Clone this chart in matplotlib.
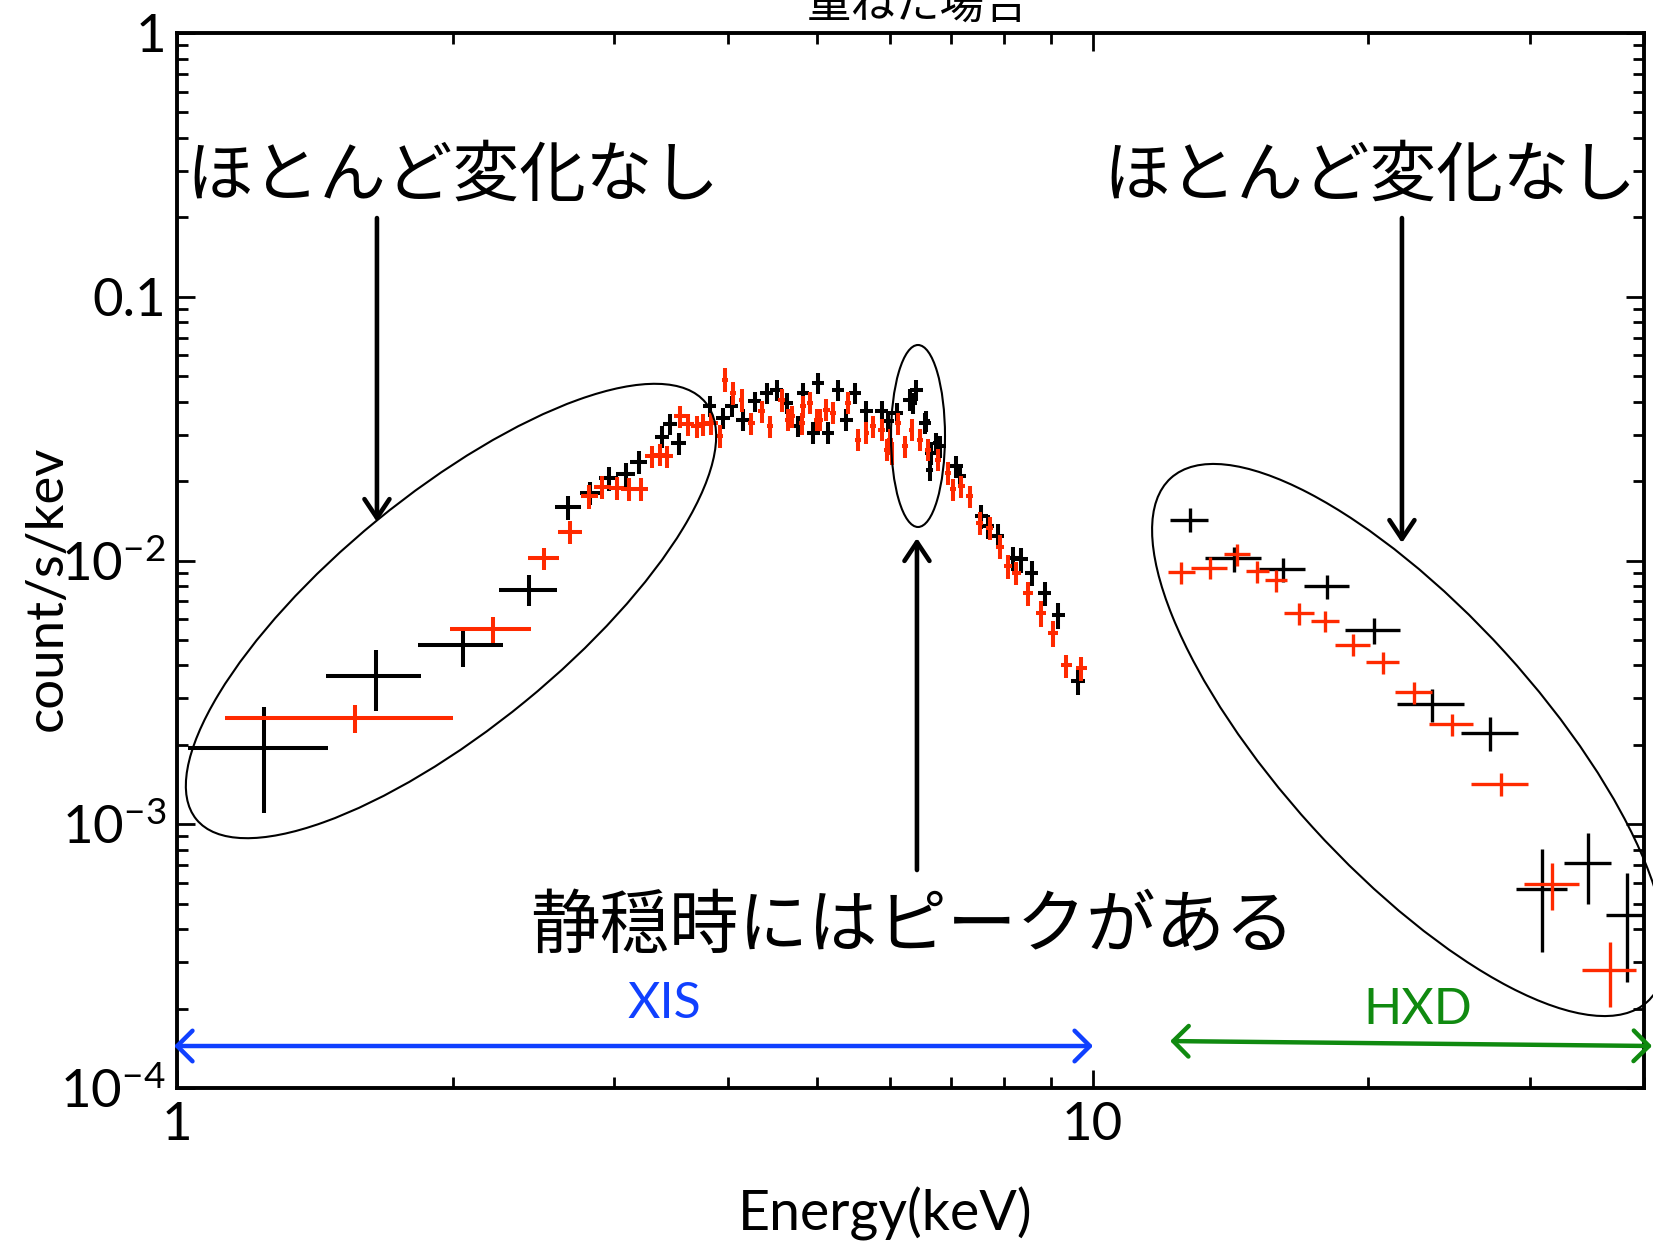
import matplotlib

matplotlib.use("Agg")
import matplotlib.pyplot as plt
from matplotlib.patches import Ellipse
from matplotlib.ticker import FixedLocator, LogLocator, NullFormatter

plt.rcParams.update({
    "font.family": ["Lato", "Noto Sans CJK JP", "DejaVu Sans"],
    "mathtext.fontset": "custom",
    "mathtext.rm": "Lato",
    "mathtext.it": "Lato:italic",
    "mathtext.bf": "Lato:bold",
})
JP = ["Noto Sans CJK JP", "DejaVu Sans"]

# ---- XIS, black (energy keV, half bin width, count/s/keV, error)
xis_k_e = [1.244, 1.649, 2.052, 2.423, 2.673, 2.824, 2.962, 3.092, 3.194,
           3.384, 3.452, 3.532, 3.818, 3.948, 4.033, 4.152, 4.276, 4.404,
           4.516, 4.631, 4.768, 4.829, 4.951, 5.013, 5.140, 5.272, 5.384,
           5.498, 5.662, 5.880, 5.978, 6.106, 6.313, 6.366, 6.420, 6.556,
           6.580, 6.640, 6.667, 6.750, 6.808, 7.100, 7.159, 7.557, 7.684,
           7.880, 8.185, 8.360, 8.574, 8.864, 9.166, 9.638]
xis_k_de = [0.217, 0.196, 0.219, 0.174, 0.087, 0.071, 0.070, 0.075, 0.070,
            0.060, 0.060, 0.065, 0.065, 0.065, 0.065, 0.070, 0.070, 0.070,
            0.075, 0.075, 0.075, 0.075, 0.080, 0.080, 0.080, 0.085, 0.085,
            0.085, 0.090, 0.090, 0.095, 0.095, 0.100, 0.060, 0.100, 0.100,
            0.060, 0.060, 0.105, 0.060, 0.105, 0.110, 0.110, 0.120, 0.120,
            0.125, 0.130, 0.135, 0.140, 0.145, 0.150, 0.160]
xis_k_r = [1.94e-3, 3.64e-3, 4.77e-3, 7.76e-3, 0.0159, 0.0180, 0.0205,
           0.0212, 0.0237, 0.0295, 0.0328, 0.0278, 0.0384, 0.0347, 0.0384,
           0.0342, 0.0401, 0.0432, 0.0444, 0.0396, 0.0323, 0.0432, 0.0305,
           0.0471, 0.0305, 0.0444, 0.0342, 0.0432, 0.0368, 0.0368, 0.0337,
           0.0363, 0.0407, 0.0396, 0.0444, 0.0332, 0.0337, 0.0221, 0.0256,
           0.0279, 0.0271, 0.0228, 0.0209, 0.0147, 0.0135, 0.0124, 0.0102,
           0.0101, 0.0090, 0.0075, 0.0062, 0.0035]
xis_k_dr = [0.84e-3, 0.95e-3, 0.82e-3, 1.03e-3, 0.0017, 0.0018, 0.0022,
            0.0023, 0.0024, 0.0028, 0.0030, 0.0026, 0.0035, 0.0032, 0.0035,
            0.0032, 0.0036, 0.0040, 0.0040, 0.0036, 0.0030, 0.0040, 0.0029,
            0.0043, 0.0029, 0.0040, 0.0032, 0.0040, 0.0034, 0.0034, 0.0031,
            0.0034, 0.0038, 0.0037, 0.0041, 0.0031, 0.0031, 0.0021, 0.0025,
            0.0026, 0.0026, 0.0022, 0.0020, 0.0015, 0.0014, 0.0013, 0.0011,
            0.0011, 0.0010, 0.0008, 0.0007, 0.0004]

# ---- XIS, red
xis_r_e = [1.564, 2.211, 2.515, 2.686, 2.819, 2.915, 3.020, 3.117, 3.208,
           3.298, 3.368, 3.425, 3.541, 3.616, 3.693, 3.755, 3.834, 3.915,
           3.966, 4.049, 4.135, 4.240, 4.349, 4.441, 4.573, 4.650, 4.690,
           4.810, 4.829, 4.909, 4.994, 5.035, 5.120, 5.206, 5.404, 5.542,
           5.662, 5.756, 5.880, 5.955, 6.004, 6.030, 6.130, 6.235, 6.341,
           6.474, 6.611, 6.779, 6.950, 7.038, 7.188, 7.339, 7.526, 7.717,
           7.914, 8.081, 8.254, 8.501, 8.790, 9.052, 9.361, 9.721]
xis_r_de = [0.436, 0.224, 0.098, 0.081, 0.060, 0.060, 0.060, 0.060, 0.060,
            0.055, 0.055, 0.055, 0.055, 0.055, 0.055, 0.055, 0.060, 0.030,
            0.030, 0.030, 0.030, 0.035, 0.035, 0.035, 0.035, 0.035, 0.035,
            0.035, 0.035, 0.035, 0.035, 0.035, 0.040, 0.040, 0.040, 0.040,
            0.040, 0.040, 0.045, 0.045, 0.045, 0.045, 0.045, 0.045, 0.045,
            0.050, 0.050, 0.050, 0.055, 0.055, 0.060, 0.060, 0.070, 0.075,
            0.080, 0.085, 0.090, 0.100, 0.110, 0.120, 0.130, 0.140]
xis_r_r = [2.52e-3, 5.48e-3, 0.0102, 0.0128, 0.0175, 0.0190, 0.0189, 0.0187,
           0.0187, 0.0248, 0.0252, 0.0248, 0.0352, 0.0328, 0.0323, 0.0328,
           0.0332, 0.0296, 0.0485, 0.0432, 0.0407, 0.0332, 0.0368, 0.0323,
           0.0407, 0.0342, 0.0352, 0.0332, 0.0384, 0.0396, 0.0342, 0.0342,
           0.0373, 0.0363, 0.0396, 0.0287, 0.0305, 0.0323, 0.0313, 0.0263,
           0.0287, 0.0256, 0.0332, 0.0271, 0.0313, 0.0287, 0.0263, 0.0241,
           0.0215, 0.0186, 0.0191, 0.0175, 0.0139, 0.0133, 0.0113, 0.0095,
           0.0090, 0.0075, 0.0063, 0.0053, 0.0040, 0.0039]
xis_r_dr = [0.31e-3, 0.60e-3, 0.0010, 0.0013, 0.0018, 0.0019, 0.0019, 0.0019,
            0.0019, 0.0024, 0.0024, 0.0024, 0.0034, 0.0031, 0.0031, 0.0031,
            0.0032, 0.0029, 0.0050, 0.0042, 0.0040, 0.0032, 0.0035, 0.0031,
            0.0040, 0.0033, 0.0034, 0.0032, 0.0037, 0.0038, 0.0033, 0.0033,
            0.0036, 0.0035, 0.0038, 0.0028, 0.0029, 0.0031, 0.0030, 0.0025,
            0.0028, 0.0025, 0.0032, 0.0026, 0.0030, 0.0028, 0.0025, 0.0023,
            0.0021, 0.0018, 0.0019, 0.0017, 0.0014, 0.0013, 0.0012, 0.0010,
            0.0009, 0.0008, 0.0007, 0.0006, 0.0004, 0.0004]

# ---- HXD, black
hxd_k_e = [12.76, 14.25, 16.12, 18.03, 20.27, 23.48, 27.18, 30.97, 34.75, 38.3]
hxd_k_de = [0.62, 1.0, 0.94, 1.02, 1.4, 1.97, 1.95, 1.95, 2.05, 1.9]
hxd_k_r = [0.0143, 0.01018, 9.25e-3, 7.97e-3, 5.43e-3, 2.85e-3, 2.22e-3,
           5.67e-4, 7.12e-4, 4.53e-4]
hxd_k_dr = [0.0015, 0.0011, 0.00095, 0.00085, 0.0006, 0.0004, 0.00032,
            2.4e-4, 2.15e-4, 2.0e-4]

# ---- HXD, red
hxd_r_e = [12.5, 13.42, 14.38, 15.13, 15.86, 16.82, 17.95, 19.23, 20.73,
           22.44, 24.66, 27.89, 31.77, 36.7]
hxd_r_de = [0.43, 0.6, 0.46, 0.44, 0.44, 0.64, 0.64, 0.85, 0.87, 1.04, 1.39,
            1.99, 2.2, 2.5]
hxd_r_r = [9.01e-3, 9.4e-3, 0.01054, 9.09e-3, 8.4e-3, 6.3e-3, 5.89e-3,
           4.8e-3, 4.11e-3, 3.16e-3, 2.39e-3, 1.42e-3, 5.93e-4, 2.8e-4]
hxd_r_dr = [0.0009, 0.0009, 0.0010, 0.0009, 0.0008, 0.0006, 0.00055,
            0.00045, 0.0004, 0.0003, 0.00023, 0.00014, 1.2e-4, 7.8e-5]

y_ticks = [1e-4, 1e-3, 1e-2, 0.1, 1]
y_labels = ["$10^{-4}$", "$10^{-3}$", "$10^{-2}$", "0.1", "1"]
x_ticks = [1, 10]
x_labels = ["1", "10"]

C_BLACK, C_RED = "black", "#ff2a00"
C_BLUE, C_GREEN = "#1040ff", "#108a10"

W, H = 1653, 1247
fig = plt.figure(figsize=(W / 100, H / 100), dpi=100)
ax = fig.add_axes([177 / W, (H - 1088) / H, 1467 / W, 1055 / H])
ax.set_xscale("log")
ax.set_yscale("log")

for e, de, r, dr, c, lw in (
        (xis_k_e, xis_k_de, xis_k_r, xis_k_dr, C_BLACK, 2.9),
        (hxd_k_e, hxd_k_de, hxd_k_r, hxd_k_dr, C_BLACK, 2.4),
        (xis_r_e, xis_r_de, xis_r_r, xis_r_dr, C_RED, 2.9),
        (hxd_r_e, hxd_r_de, hxd_r_r, hxd_r_dr, C_RED, 2.4)):
    ax.errorbar(e, r, xerr=de, yerr=dr, fmt="none", ecolor=c,
                elinewidth=lw, capsize=0)

ax.set_xlim(1, 40)
ax.set_ylim(1e-4, 1)
ax.yaxis.set_major_locator(FixedLocator(y_ticks))
ax.set_yticklabels(y_labels)
ax.xaxis.set_major_locator(FixedLocator(x_ticks))
ax.set_xticklabels(x_labels)
ax.xaxis.set_minor_locator(LogLocator(base=10, subs=range(2, 10)))
ax.yaxis.set_minor_locator(LogLocator(base=10, subs=range(2, 10)))
ax.xaxis.set_minor_formatter(NullFormatter())
ax.yaxis.set_minor_formatter(NullFormatter())
ax.tick_params(which="both", direction="in", top=True, right=True,
               width=2, labelsize=38, color="black")
ax.tick_params(which="major", length=13)
ax.tick_params(which="minor", length=8)
ax.tick_params(axis="y", pad=8)
ax.tick_params(axis="x", pad=10)
for s in ax.spines.values():
    s.set_linewidth(2.8)

ax.set_xlabel("Energy(keV)", fontsize=40, va="center")
ax.set_ylabel("count/s/kev", fontsize=38, va="center")
ax.xaxis.set_label_coords(0.483, -0.119)
ax.yaxis.set_label_coords(-0.0886, 0.474)

fig.text(918 / W, 0.996, "重ねた場合", family=JP, fontsize=32,
         ha="center", va="center")

# annotations
ax.text(0.188, 0.8635, "ほとんど変化なし", family=JP, fontsize=48,
        ha="center", va="center", transform=ax.transAxes)
ax.text(0.813, 0.8635, "ほとんど変化なし", family=JP, fontsize=48,
        ha="center", va="center", transform=ax.transAxes, clip_on=False)
ax.text(0.501, 0.152, "静穏時にはピークがある", family=JP, fontsize=50,
        ha="center", va="center", transform=ax.transAxes)
ax.text(0.332, 0.0796, "XIS", color=C_BLUE, fontsize=36,
        ha="center", va="center", transform=ax.transAxes)
ax.text(0.846, 0.074, "HXD", color=C_GREEN, fontsize=36,
        ha="center", va="center", transform=ax.transAxes)

black_arrow = dict(arrowstyle="->,head_length=0.45,head_width=0.3",
                   lw=3.3, color="black", mutation_scale=30,
                   shrinkA=0, shrinkB=0)
for tail, head in (((0.1363, 0.8246), (0.1363, 0.5365)),
                   ((0.835, 0.8246), (0.835, 0.5166)),
                   ((0.5044, 0.2066), (0.5044, 0.5213))):
    ax.annotate("", xy=head, xytext=tail, xycoords="axes fraction",
                arrowprops=black_arrow)

for p0, p1, c in (((-0.002, 0.0398), (0.6244, 0.0398), C_BLUE),
                  ((0.677, 0.0445), (1.0055, 0.0398), C_GREEN)):
    ax.annotate("", xy=p1, xytext=p0, xycoords="axes fraction",
                annotation_clip=False,
                arrowprops=dict(arrowstyle="<->,head_length=0.5,head_width=0.5",
                                lw=3.2, color=c, mutation_scale=22,
                                shrinkA=0, shrinkB=0))

# ellipses, drawn in figure inches so the tilt stays true
for cx, cy, w, h, ang in ((451, 611, 658, 234, 39.3),
                          (918, 436, 54, 182, 0),
                          (1409, 740, 708, 260, -47.7)):
    fig.add_artist(Ellipse((cx / 100, (H - cy) / 100), w / 100, h / 100,
                           angle=ang, fill=False, lw=1.5, color="black",
                           transform=fig.dpi_scale_trans))

fig.savefig("out.png", dpi=100)
